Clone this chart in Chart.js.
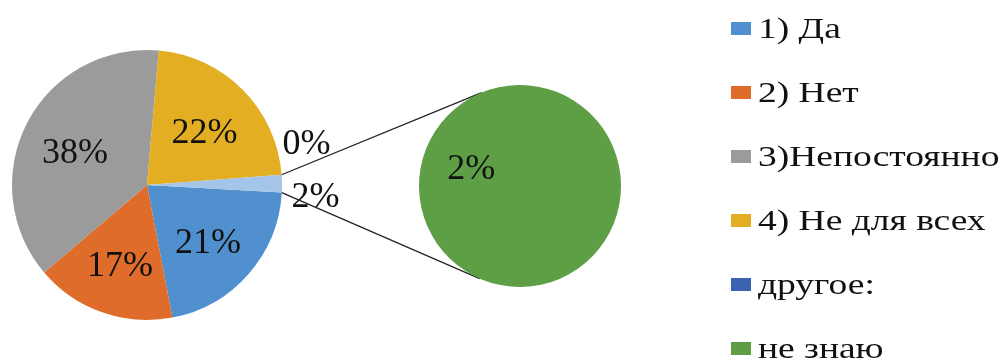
<!DOCTYPE html>
<html>
<head>
<meta charset="utf-8">
<script src="https://cdn.jsdelivr.net/npm/chart.js@4.4.1/dist/chart.umd.min.js"></script>
<style>
    body { margin: 0; background: #fff; }
    #wrap { position: relative; width: 1005px; height: 363px; overflow: hidden; font-family: 'Liberation Serif', 'Times New Roman', serif; }
    #mainChart { position: absolute; left: 0; top: 0; }
    #subChart { position: absolute; left: 419px; top: 85px; }
    #legend { position: absolute; left: 731px; top: 0; color: #111; }
    .item { position: absolute; left: 0; height: 20px; display: flex; align-items: center; white-space: nowrap; }
    .box { width: 20px; height: 13px; flex: none; }
    .txt { margin-left: 7px; font-size: 30px; line-height: 30px; transform: scaleX(1.25); transform-origin: left center; }
</style>
</head>
<body>
<div id="wrap">
    <canvas id="mainChart" width="1005" height="363"></canvas>
    <canvas id="subChart" width="202" height="202"></canvas>
    <div id="legend"></div>
</div>
<script>
// categories and values (percent; labels show them rounded)
const categories = ['1) Да', '2) Нет', '3)Непостоянно', '4) Не для всех', 'другое:', 'не знаю'];
const values = [21.1, 16.8, 37.6, 22.4, 0, 2.1];
const colors = ['#5090cf', '#df6c2a', '#9b9b9b', '#e4ae23', '#3a63b2', '#5e9e44'];
const otherColor = '#a4c5e7';
const mainCount = 4; // first 4 go to the main pie, the rest to the secondary one

const mainValues = values.slice(0, mainCount).concat([values.slice(mainCount).reduce((a, b) => a + b, 0)]);
const mainColors = colors.slice(0, mainCount).concat([otherColor]);
const subValues = values.slice(mainCount);
const subColors = colors.slice(mainCount);

const LABEL_FONT = '36px "Liberation Serif", "Times New Roman", serif';
const pct = v => Math.round(v) + '%';

// draws text centred (roughly) on the digits' visual middle
const drawLabel = (ctx, text, x, y) => ctx.fillText(text, x, y + 15);

// Secondary pie (drawn first so the main chart can read its geometry)
const subLabels = {
    id: 'subLabels',
    afterDatasetsDraw(chart) {
        const ctx = chart.ctx;
        const arcs = chart.getDatasetMeta(0).data;
        ctx.save();
        ctx.font = LABEL_FONT;
        ctx.fillStyle = '#111';
        ctx.textAlign = 'center';
        ctx.textBaseline = 'alphabetic';
        arcs.forEach((arc, i) => {
            if (!subValues[i]) return; // zero slice label is drawn near the main pie
            const mid = (arc.startAngle + arc.endAngle) / 2;
            const d = arc.outerRadius * 0.52;
            drawLabel(ctx, pct(subValues[i]), arc.x + Math.cos(mid) * d, arc.y + Math.sin(mid) * d - 3);
        });
        ctx.restore();
    }
};

const subChart = new Chart(document.getElementById('subChart'), {
    type: 'pie',
    data: {
        labels: categories.slice(mainCount),
        datasets: [{ data: subValues, backgroundColor: subColors, borderWidth: 0 }]
    },
    options: {
        responsive: false,
        animation: false,
        rotation: 111.6,
        plugins: { legend: { display: false }, tooltip: { enabled: false } }
    },
    plugins: [subLabels]
});

// Labels + connector lines for the main pie
const mainLabels = {
    id: 'mainLabels',
    afterDatasetsDraw(chart) {
        const ctx = chart.ctx;
        const arcs = chart.getDatasetMeta(0).data;
        ctx.save();
        ctx.font = LABEL_FONT;
        ctx.fillStyle = '#111';
        ctx.textAlign = 'center';
        ctx.textBaseline = 'alphabetic';
        arcs.forEach((arc, i) => {
            const mid = (arc.startAngle + arc.endAngle) / 2;
            const R = arc.outerRadius;
            if (i < mainCount) {
                const d = R * 0.6;
                drawLabel(ctx, pct(mainValues[i]), arc.x + Math.cos(mid) * d, arc.y + Math.sin(mid) * d);
            } else {
                // other slice: combined value below, first secondary item above
                const a1 = mid + 0.05, d1 = R * 1.25;
                drawLabel(ctx, pct(mainValues[i]), arc.x + Math.cos(a1) * d1, arc.y + Math.sin(a1) * d1);
                const a2 = mid - 0.27, d2 = R * 1.23;
                drawLabel(ctx, pct(subValues[0]), arc.x + Math.cos(a2) * d2, arc.y + Math.sin(a2) * d2);
            }
        });

        // connector lines from the "other" slice to the secondary pie
        const other = arcs[mainCount];
        const subArc = subChart.getDatasetMeta(0).data[subValues.length - 1];
        const subCanvas = subChart.canvas;
        const cx = subArc.x + subCanvas.offsetLeft;
        const cy = subArc.y + subCanvas.offsetTop;
        const r = subArc.outerRadius;
        const ends = [
            { ang: other.startAngle, sign: 1 },
            { ang: other.endAngle, sign: -1 }
        ];
        ctx.strokeStyle = '#222';
        ctx.lineWidth = 1.3;
        ends.forEach(e => {
            const px = other.x + Math.cos(e.ang) * other.outerRadius;
            const py = other.y + Math.sin(e.ang) * other.outerRadius;
            const dist = Math.hypot(px - cx, py - cy);
            const base = Math.atan2(py - cy, px - cx);
            const t = base + e.sign * Math.acos(r / dist);
            ctx.beginPath();
            ctx.moveTo(px, py);
            ctx.lineTo(cx + Math.cos(t) * r, cy + Math.sin(t) * r);
            ctx.stroke();
        });
        ctx.restore();
    }
};

const mainChart = new Chart(document.getElementById('mainChart'), {
    type: 'pie',
    data: {
        labels: categories.slice(0, mainCount).concat(['other']),
        datasets: [{ data: mainValues, backgroundColor: mainColors, borderWidth: 0 }]
    },
    options: {
        responsive: false,
        animation: false,
        rotation: 93.2,
        layout: { padding: { left: 12, top: 50, right: 723, bottom: 43 } },
        plugins: { legend: { display: false }, tooltip: { enabled: false } }
    },
    plugins: [mainLabels]
});

// Legend
const legend = document.getElementById('legend');
categories.forEach((name, i) => {
    const item = document.createElement('div');
    item.className = 'item';
    item.style.top = (18 + i * 64) + 'px';
    item.innerHTML = `<div class="box" style="background:${colors[i]}"></div><span class="txt">${name}</span>`;
    legend.appendChild(item);
});
</script>
</body>
</html>
